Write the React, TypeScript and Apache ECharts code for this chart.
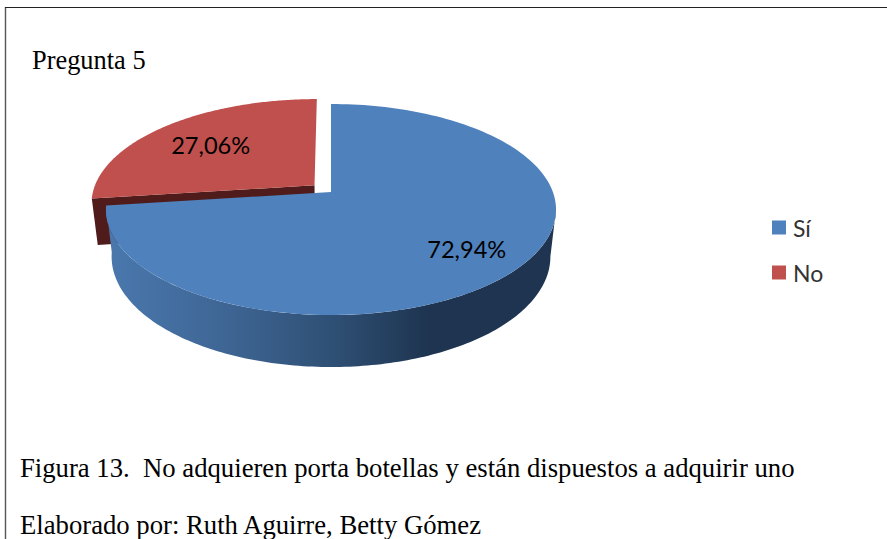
import React, { useEffect, useRef } from "react";
import * as echarts from "echarts";

const categories = ["Sí", "No"];
const percentages = [72.94, 27.06];
const sliceColors = ["#4f81bd", "#c0504d"];
const titleText = "Pregunta 5";
const captionLines = [
  "Figura 13.  No adquieren porta botellas y están dispuestos a adquirir uno",
  "Elaborado por: Ruth Aguirre, Betty Gómez",
];

// Pie projection: a circle (u right, v toward the viewer) seen in perspective.
const CX = 331;
const CY = 192;
const PX = 221.9;
const PY = 102.6;
const PERSP = -0.166;
const BASE_SCALE = 0.975;
const STEPS = 160;
const EXPLODE = [0, 0.1];
const LABEL_R = [0.75, 0.68];

type P = [number, number];
const top = (u: number, v: number): P => {
  const d = 1 + PERSP * v;
  return [CX + (PX * u) / d, CY + (PY * v) / d];
};
const base = (u: number, v: number): P => {
  const p = top(u, v);
  return [CX + (p[0] - CX) * BASE_SCALE, p[1] + 46 + 6 * v];
};

function sliceAngles(index: number) {
  const total = percentages.reduce((a, b) => a + b, 0);
  const before = percentages.slice(0, index).reduce((a, b) => a + b, 0);
  const a0 = (before / total) * Math.PI * 2;
  const a1 = ((before + percentages[index]) / total) * Math.PI * 2;
  return [a0, a1];
}

function renderSlice(index: number) {
  return (_params: any, api: any) => {
    const value = api.value(0) as number;
    const [a0, a1] = sliceAngles(index);
    const mid = (a0 + a1) / 2;
    const ex = EXPLODE[index];
    const ox = Math.sin(mid) * ex;
    const oy = -Math.cos(mid) * ex;
    const at = (t: number, r = 1): [number, number] => [ox + r * Math.sin(t), oy - r * Math.cos(t)];

    const arc = (from: number, to: number, fn: (u: number, v: number) => P) => {
      const out: P[] = [];
      for (let i = 0; i <= STEPS; i++) {
        const t = from + ((to - from) * i) / STEPS;
        const [u, v] = at(t);
        out.push(fn(u, v));
      }
      return out;
    };

    const surface: P[] = [top(ox, oy), ...arc(a0, a1, top)];
    const children: any[] = [];

    if (index === 0) {
      // Outer wall: from the widest point on the right round to the slice's end.
      const from = Math.acos(-PERSP) > a0 ? Math.acos(PERSP) : a0;
      const wall = [...arc(from, a1, top), ...arc(from, a1, base).reverse()];
      children.push({
        type: "polygon",
        shape: { points: wall },
        style: {
          fill: new echarts.graphic.LinearGradient(0, 0, 1, 0, [
            { offset: 0, color: "#4a78ae" },
            { offset: 0.25, color: "#3f6796" },
            { offset: 0.5, color: "#2f5075" },
            { offset: 0.72, color: "#1e3450" },
            { offset: 1, color: "#1e3450" },
          ]),
        },
      });
    } else {
      // Cut face of the exploded slice, seen from the front.
      const [u, v] = at(a0);
      const face = [top(u, v), top(ox, oy), base(ox, oy), base(u, v)];
      children.push({ type: "polygon", shape: { points: face }, style: { fill: "#4f1c1b" } });
    }

    children.push({
      type: "polygon",
      shape: { points: surface },
      style: { fill: sliceColors[index] },
    });

    const [lu, lv] = at(mid, LABEL_R[index]);
    const [lx, ly] = top(lu, lv);
    children.push({
      type: "text",
      style: {
        text: value.toFixed(2).replace(".", ",") + "%",
        x: lx - 0.5,
        y: ly + 2,
        fill: "#000",
        fontFamily: "Lato",
        fontSize: 23.6,
        textAlign: "center",
        textVerticalAlign: "middle",
      },
      z2: 10,
    });
    return { type: "group", children };
  };
}

export default function App() {
  const ref = useRef<HTMLDivElement>(null);
  useEffect(() => {
    const chart = echarts.init(ref.current!, undefined, { renderer: "svg" });
    chart.setOption({
      animation: false,
      backgroundColor: "#ffffff",
      legend: {
        orient: "vertical",
        left: 767,
        top: 211,
        data: categories,
        icon: "rect",
        itemWidth: 14,
        itemHeight: 14,
        itemGap: 22,
        selectedMode: false,
        textStyle: { fontFamily: "Lato", fontSize: 23, color: "#333", padding: [0, 0, 0, 2] },
      },
      series: categories.map((name, i) => ({
        type: "custom",
        name,
        coordinateSystem: "none",
        silent: true,
        z: i === 0 ? 3 : 2,
        itemStyle: { color: sliceColors[i] },
        data: [[percentages[i]]],
        renderItem: renderSlice(i),
      })),
      graphic: [
        { type: "line", shape: { x1: 5.5, y1: 7, x2: 5.5, y2: 539 }, style: { stroke: "#555", lineWidth: 1.4 } },
        { type: "line", shape: { x1: 5, y1: 7.5, x2: 887, y2: 7.5 }, style: { stroke: "#222", lineWidth: 1.2 } },
        {
          type: "text", x: 32, y: 60,
          style: { text: titleText, fontFamily: "Liberation Serif", fontSize: 26.4, fill: "#000", textVerticalAlign: "middle" },
        },
        {
          type: "text", x: 20, y: 468,
          style: { text: captionLines[0], fontFamily: "Liberation Serif", fontSize: 26.7, fill: "#000", textVerticalAlign: "middle" },
        },
        {
          type: "text", x: 20, y: 525,
          style: { text: captionLines[1], fontFamily: "Liberation Serif", fontSize: 26.7, fill: "#000", textVerticalAlign: "middle" },
        },
      ],
    });
    return () => chart.dispose();
  }, []);
  return <div ref={ref} style={{ position: "fixed", left: 0, top: 0, width: 887, height: 539 }} />;
}
